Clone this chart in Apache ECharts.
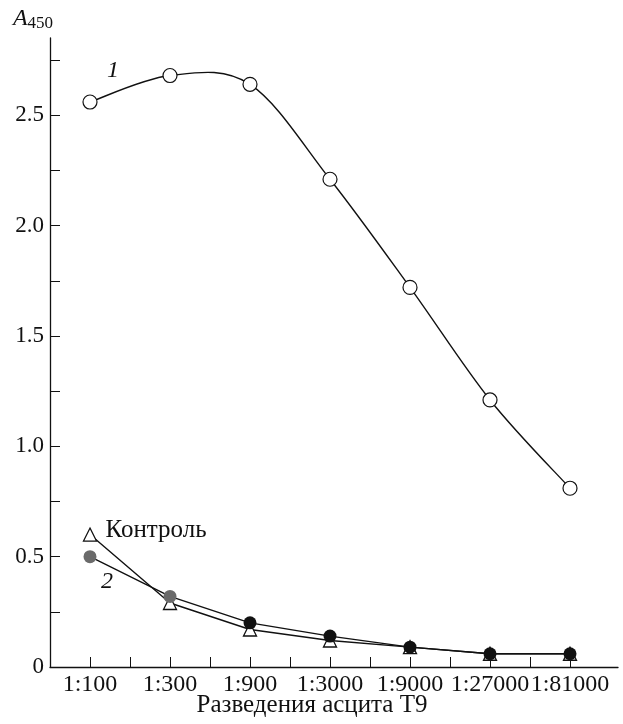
<!DOCTYPE html>
<html><head><meta charset="utf-8">
<script src="https://cdn.jsdelivr.net/npm/echarts@6/dist/echarts.min.js"></script>
<style>html,body{margin:0;padding:0;background:#fff}#c{width:623px;height:724px}</style>
</head><body><div id="c"></div>
<script>
const categories = ['1:100','1:300','1:900','1:3000','1:9000','1:27000','1:81000'];
const series1 = [2.56, 2.68, 2.64, 2.21, 1.72, 1.21, 0.81];
const series2 = [0.50, 0.32, 0.20, 0.14, 0.09, 0.06, 0.06];
const control = [0.60, 0.29, 0.17, 0.12, 0.09, 0.06, 0.06];
const yTickLabels = ['0','0.5','1.0','1.5','2.0','2.5'];
const yLabelValues = [0, 0.5, 1.0, 1.5, 2.0, 2.5];
const yTickValues = [0,0.25,0.5,0.75,1,1.25,1.5,1.75,2,2.25,2.5,2.75];
const xTickValues = [0,0.5,1,1.5,2,2.5,3,3.5,4,4.5,5,5.5,6];

const F = 'Liberation Serif';
const pts = arr => arr.map((v,i)=>[i,v]);

// Catmull-Rom spline path through the pixel coordinates returned by the axes
function splinePath(p){
  let d = 'M'+p[0][0]+' '+p[0][1];
  for(let i=0;i<p.length-1;i++){
    const p0=p[Math.max(0,i-1)], p1=p[i], p2=p[i+1], p3=p[Math.min(p.length-1,i+2)];
    const c1=[p1[0]+(p2[0]-p0[0])/6, p1[1]+(p2[1]-p0[1])/6];
    const c2=[p2[0]-(p3[0]-p1[0])/6, p2[1]-(p3[1]-p1[1])/6];
    d+=' C'+c1[0]+' '+c1[1]+' '+c2[0]+' '+c2[1]+' '+p2[0]+' '+p2[1];
  }
  return d;
}

const chart = echarts.init(document.getElementById('c'));
chart.setOption({
  animation:false,
  grid:{left:50,right:5,top:38,bottom:57,outerBoundsMode:'none',containLabel:false},
  xAxis:{type:'value',min:-0.5,max:6.6,
    name:'Разведения асцита T9',nameLocation:'middle',nameGap:26,nameMoveOverlap:false,
    nameTextStyle:{fontFamily:F,fontSize:25,color:'#111',padding:[0,44,0,0]},
    axisLine:{onZero:false,lineStyle:{color:'#111',width:1.3}},
    axisTick:{inside:true,length:10,customValues:xTickValues,lineStyle:{color:'#111'}},
    axisLabel:{customValues:categories.map((c,i)=>i),formatter:v=>categories[Math.round(v)],
      fontFamily:F,fontSize:24,color:'#111',margin:6},
    splitLine:{show:false}},
  yAxis:{type:'value',min:0,max:2.85,
    name:'{a|A}{s|450}',nameLocation:'end',nameGap:6,
    nameTextStyle:{align:'center',padding:[0,34,0,0],rich:{
      a:{fontFamily:F,fontStyle:'italic',fontSize:24,color:'#111'},
      s:{fontFamily:F,fontSize:17,color:'#111',padding:[10,0,0,0]}}},
    axisLine:{show:true,onZero:false,lineStyle:{color:'#111',width:1.3}},
    axisTick:{show:true,inside:true,length:10,customValues:yTickValues,lineStyle:{color:'#111'}},
    axisLabel:{customValues:yLabelValues,formatter:v=>yTickLabels[yLabelValues.indexOf(v)]??'',
      fontFamily:F,fontSize:23,color:'#111',margin:6},
    splitLine:{show:false}},
  series:[
    {type:'custom',data:pts(series1),z:2,silent:true,
      renderItem:(params,api)=>{
        if(params.dataIndex!==0) return null;
        const p = series1.map((v,i)=>api.coord([i,v]));
        return {type:'path',shape:{pathData:splinePath(p)},
          style:{fill:'none',stroke:'#111',lineWidth:1.4}};
      }},
    {type:'line',data:pts(series1),symbol:'circle',symbolSize:14,
      lineStyle:{width:0,opacity:0},
      itemStyle:{color:'#fff',borderColor:'#111',borderWidth:1.2},
      label:{show:true,formatter:p=>p.dataIndex===0?'1':'',position:'inside',offset:[23,-31],
        fontFamily:F,fontStyle:'italic',fontSize:24,color:'#111'},z:3},
    {type:'line',data:pts(control),symbol:'triangle',symbolSize:13,
      lineStyle:{color:'#111',width:1.4},
      itemStyle:{color:'#fff',borderColor:'#111',borderWidth:1.3},
      label:{show:true,formatter:p=>p.dataIndex===0?'Контроль':'',position:'inside',offset:[66,-4],
        fontFamily:F,fontSize:25,color:'#111'},z:2},
    {type:'line',data:pts(series2),symbol:'circle',symbolSize:13,
      lineStyle:{color:'#111',width:1.4},
      itemStyle:{color:p=>p.dataIndex<2?'#6a6a6a':'#111',borderColor:'#111',borderWidth:0},
      label:{show:true,formatter:p=>p.dataIndex===0?'2':'',position:'inside',offset:[17,25],
        fontFamily:F,fontStyle:'italic',fontSize:24,color:'#111'},z:4}
  ]
});
</script></body></html>
